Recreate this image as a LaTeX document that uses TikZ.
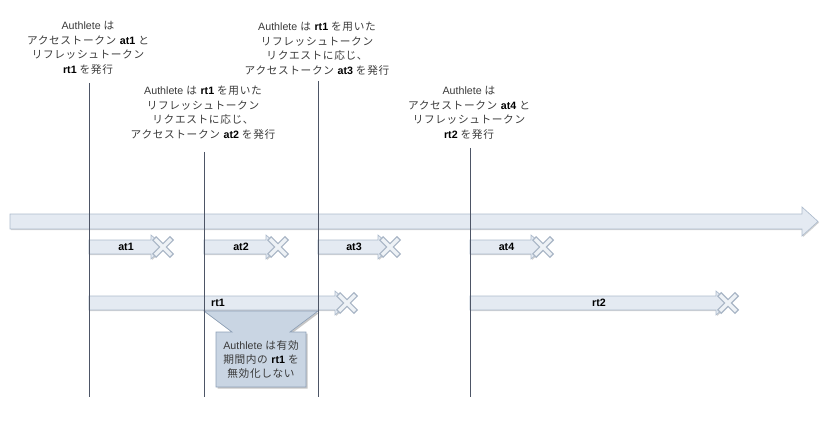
\documentclass[tikz,border=0pt]{standalone}
\usepackage{fontspec}
\setmainfont{Liberation Sans}
\newfontfamily\jp[LetterSpace=6]{Noto Sans CJK JP}
\usetikzlibrary{shadows}
\definecolor{arrfill}{HTML}{E4EAF2}
\definecolor{arrdraw}{HTML}{AEBCCD}
\definecolor{vline}{HTML}{4D5566}
\definecolor{txt}{HTML}{3A3A3A}
\definecolor{callfill}{HTML}{C9D5E3}
\definecolor{calldraw}{HTML}{8FA1B8}
\definecolor{xout}{HTML}{A9B6C6}
\definecolor{xin}{HTML}{EEF2F6}
\tikzset{
  arrowshape/.style={fill=arrfill, draw=arrdraw, line width=0.5pt,
    drop shadow={shadow xshift=0.8pt, shadow yshift=-0.8pt, opacity=0.35}},
  tokenlabel/.style={font=\fontsize{8}{10}\selectfont\bfseries, text=black, inner sep=0pt},
  toplabel/.style={font=\fontsize{8}{10.9}\selectfont, text=txt, align=center, inner sep=0pt, anchor=north},
  timeline/.style={draw=vline, line width=0.6pt},
  callout/.style={fill=callfill, draw=calldraw, line width=0.5pt,
    drop shadow={shadow xshift=1.2pt, shadow yshift=-1.2pt, opacity=0.45}},
}
% #1 start x, #2 cross x, #3 y, #4 name, #5 label, #6 half body, #7 half head
\newcommand\tokenarrow[7]{%
  \path[arrowshape] (#1,#3-#6) -- (#2-12,#3-#6) -- (#2-12,#3-#7) -- (#2+2,#3)
     -- (#2-12,#3+#7) -- (#2-12,#3+#6) -- (#1,#3+#6) -- cycle;
  \node[tokenlabel] (#4) at ({(#1+#2)/2},#3) {#5};
  \draw[xout, line width=4.5pt] (#2-9,#3-9) -- (#2+9,#3+9) (#2-9,#3+9) -- (#2+9,#3-9);
  \draw[xin, line width=2.6pt] (#2-8,#3-8) -- (#2+8,#3+8) (#2-8,#3+8) -- (#2+8,#3-8);
}
\begin{document}
\begin{tikzpicture}[x=0.75pt,y=-0.75pt]
\useasboundingbox (0,0) rectangle (828,442);
% main time arrow
\path[arrowshape] (10,214) -- (802,214) -- (802,207) -- (818,221.5) -- (802,236)
   -- (802,229) -- (10,229) -- cycle;
% tokens
\tokenarrow{89}{163}{247}{at1}{at1}{7}{12}
\tokenarrow{204}{278}{247}{at2}{at2}{7}{12}
\tokenarrow{318}{390}{247}{at3}{at3}{7}{12}
\tokenarrow{470}{543}{247}{at4}{at4}{7}{12}
\tokenarrow{89}{347}{303}{rt1}{rt1}{7}{12}
\tokenarrow{470}{728}{303}{rt2}{rt2}{7}{12}
% callout
\path[callout] (204,311) -- (232,332) -- (216,332) -- (216,387) -- (306,387)
   -- (306,332) -- (290,332) -- (318,311) -- cycle;
\node[font=\fontsize{8}{10.5}\selectfont, text=txt, align=center, inner sep=0pt] (note) at (261,359)
  {Authlete {\jp は有効}\\{\jp 期間内の} \textbf{\color{black}rt1} {\jp を}\\{\jp 無効化しない}};
% labels
\node[toplabel] (l1) at (88,21) {Authlete {\jp は}\\{\jp アクセストークン} \textbf{\color{black}at1} {\jp と}\\{\jp リフレッシュトークン}\\\textbf{\color{black}rt1} {\jp を発行}};
\node[toplabel] (l2) at (203,86) {Authlete {\jp は} \textbf{\color{black}rt1} {\jp を用いた}\\{\jp リフレッシュトークン}\\{\jp リクエストに応じ、}\\{\jp アクセストークン} \textbf{\color{black}at2} {\jp を発行}};
\node[toplabel] (l3) at (317,22) {Authlete {\jp は} \textbf{\color{black}rt1} {\jp を用いた}\\{\jp リフレッシュトークン}\\{\jp リクエストに応じ、}\\{\jp アクセストークン} \textbf{\color{black}at3} {\jp を発行}};
\node[toplabel] (l4) at (469,86) {Authlete {\jp は}\\{\jp アクセストークン} \textbf{\color{black}at4} {\jp と}\\{\jp リフレッシュトークン}\\\textbf{\color{black}rt2} {\jp を発行}};
% vertical time lines
\coordinate (b1) at (89,397);
\coordinate (b2) at (204,397);
\coordinate (b3) at (318,397);
\coordinate (b4) at (470,397);
\draw[timeline] (89,83) -- (b1);
\draw[timeline] (204,152) -- (b2);
\draw[timeline] (318,81) -- (b3);
\draw[timeline] (470,148) -- (b4);
\end{tikzpicture}
\end{document}
